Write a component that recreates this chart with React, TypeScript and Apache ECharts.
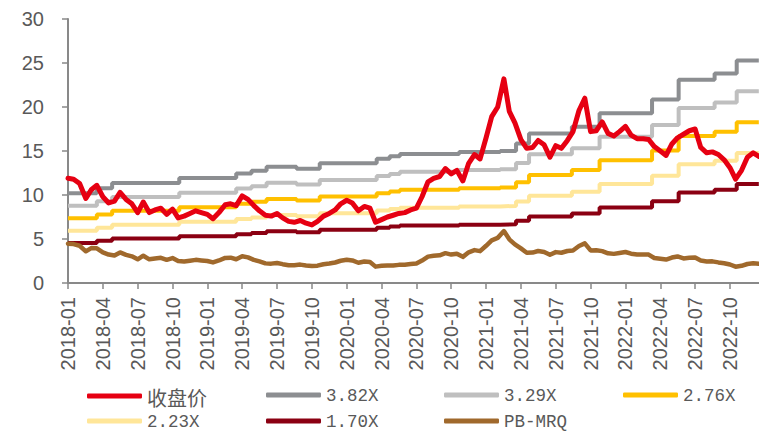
import React, { useEffect, useRef } from "react";
import * as echarts from "echarts";

// ---- data ----
const multiples = [3.82, 3.29, 2.76, 2.23, 1.7];
const bandNames = ["3.82X", "3.29X", "2.76X", "2.23X", "1.70X"];

// book value per share (steps at report dates)
const bookValueDates = [
  "2018-01-01", "2018-03-16", "2018-04-25", "2018-10-19", "2019-03-16", "2019-04-25",
  "2019-06-04", "2019-08-22", "2019-10-22", "2020-03-19", "2020-04-22", "2020-05-19",
  "2020-10-22", "2021-02-07", "2021-03-19", "2021-04-22", "2021-08-13", "2021-10-25",
  "2022-03-10", "2022-05-19", "2022-08-22", "2022-10-19",
];
const bookValuePerShare = [
  2.67, 2.82, 2.97, 3.12, 3.26, 3.34,
  3.46, 3.4, 3.56, 3.7, 3.77, 3.84,
  3.9, 3.93, 4.15, 4.45, 4.65, 5.05,
  5.46, 6.05, 6.23, 6.62,
];
const seriesEndDate = "2022-12-16";

// half-monthly samples (1st and 16th of each month, 2018-01 .. 2022-12)
const closePrice = [
  11.9, 11.8, 11.3, 9.6, 10.6, 11.1, 9.8, 9.1, 9.3, 10.3,
  9.5, 9.0, 8.0, 9.2, 8.0, 8.3, 8.5, 7.8, 8.4, 7.4,
  7.6, 7.9, 8.2, 8.0, 7.8, 7.3, 8.0, 8.9, 9.0, 8.8,
  9.9, 9.5, 8.8, 8.2, 7.7, 7.6, 7.9, 7.4, 7.0, 6.9,
  7.1, 6.8, 6.6, 7.0, 7.6, 7.9, 8.3, 9.0, 9.4, 9.1,
  8.2, 8.7, 8.5, 6.9, 7.2, 7.5, 7.7, 7.9, 8.0, 8.3,
  8.5, 9.8, 11.5, 11.9, 12.1, 13.0, 12.4, 12.8, 11.6, 13.6,
  14.6, 14.1, 16.5, 18.9, 20.0, 23.2, 19.5, 18.2, 16.3, 15.3,
  15.4, 16.2, 15.7, 14.3, 15.6, 15.3, 16.2, 17.2, 19.6, 21.0,
  17.2, 17.3, 18.3, 17.0, 16.7, 17.2, 17.8, 16.8, 16.4, 16.4,
  16.3, 15.5, 15.0, 14.5, 15.8, 16.5, 16.9, 17.3, 17.5, 15.4,
  14.8, 14.9, 14.6, 14.0, 13.1, 11.8, 12.8, 14.3, 14.8, 14.4,
];
const pbMrq = [
  4.46, 4.42, 4.23, 3.6, 3.97, 3.94, 3.48, 3.23, 3.13, 3.47,
  3.2, 3.03, 2.69, 3.1, 2.69, 2.79, 2.86, 2.63, 2.83, 2.49,
  2.44, 2.53, 2.63, 2.56, 2.5, 2.34, 2.56, 2.85, 2.88, 2.7,
  3.04, 2.91, 2.63, 2.46, 2.23, 2.2, 2.28, 2.14, 2.02, 2.03,
  2.09, 2.0, 1.94, 1.97, 2.13, 2.22, 2.33, 2.53, 2.64, 2.56,
  2.3, 2.44, 2.39, 1.86, 1.95, 1.99, 2.0, 2.06, 2.08, 2.16,
  2.21, 2.55, 3.0, 3.1, 3.15, 3.39, 3.23, 3.33, 2.97, 3.49,
  3.74, 3.62, 4.23, 4.85, 5.13, 5.9, 4.96, 4.39, 3.93, 3.44,
  3.46, 3.64, 3.53, 3.21, 3.51, 3.44, 3.64, 3.7, 4.2, 4.5,
  3.7, 3.72, 3.62, 3.37, 3.31, 3.41, 3.52, 3.33, 3.25, 3.25,
  3.23, 2.84, 2.75, 2.66, 2.89, 3.02, 2.79, 2.86, 2.89, 2.55,
  2.45, 2.46, 2.34, 2.25, 2.1, 1.85, 1.95, 2.16, 2.24, 2.18,
];

const sampleDates: string[] = [];
for (let y = 2018; y <= 2022; y++) {
  for (let mo = 1; mo <= 12; mo++) {
    const mm = String(mo).padStart(2, "0");
    sampleDates.push(`${y}-${mm}-01`, `${y}-${mm}-16`);
  }
}

const colors = {
  price: "#E60012",
  bands: ["#8C8E91", "#BFBFBF", "#FFC000", "#FFE699", "#8B0012"],
  pb: "#A0692C",
};
const textColor = "#595959";
const axisColor = "#898989";

function toMonthIndex(date: string): number {
  const [y, m, d] = date.split("-").map(Number);
  const dim = new Date(y, m, 0).getDate();
  return (y - 2018) * 12 + (m - 1) + (d - 1) / dim;
}

function monthLabel(v: number): string {
  const r = Math.round(v);
  if (Math.abs(v - r) > 1e-6 || r % 3 !== 0) return "";
  const y = 2018 + Math.floor(r / 12);
  const m = (r % 12) + 1;
  return `${y}-${String(m).padStart(2, "0")}`;
}

export default function App() {
  const ref = useRef<HTMLDivElement>(null);
  useEffect(() => {
    if (!ref.current) return;
    const chart = echarts.init(ref.current, undefined, { renderer: "svg" });

    const bandSeries = multiples.map((mult, j) => {
      const pts: [number, number][] = bookValueDates.map((d, i) => [
        toMonthIndex(d),
        +(mult * bookValuePerShare[i]).toFixed(2),
      ]);
      pts.push([toMonthIndex(seriesEndDate), +(mult * bookValuePerShare[bookValuePerShare.length - 1]).toFixed(2)]);
      return {
        name: bandNames[j],
        type: "line",
        step: "end",
        data: pts,
        showSymbol: false,
        symbol: "none",
        lineStyle: { width: 4, color: colors.bands[j] },
        itemStyle: { color: colors.bands[j] },
        z: 2,
      };
    });

    const legendPos: [string, number, number][] = [
      ["收盘价", 87, 385],
      ["3.82X", 266, 385],
      ["3.29X", 444, 385],
      ["2.76X", 623, 385],
      ["2.23X", 87, 411],
      ["1.70X", 266, 411],
      ["PB-MRQ", 444, 411],
    ];

    const legends = legendPos.map(([name, left, top]) => ({
      data: [name],
      left,
      top,
      padding: 0,
      icon: "roundRect",
      itemWidth: 55,
      itemHeight: 5,
      selectedMode: false,
      formatter: (n: string) => (/[\u4e00-\u9fff]/.test(n) ? `{cjk|${n}}` : `{lat|${n}}`),
      textStyle: {
        color: textColor,
        rich: {
          cjk: { fontFamily: '"Noto Sans CJK SC"', fontSize: 20, color: textColor, lineHeight: 18, padding: [2, 0, 0, 0] },
          lat: { fontFamily: '"Liberation Mono"', fontSize: 17.5, color: textColor, lineHeight: 18, padding: [2, 0, 0, 0] },
        },
      },
    }));

    chart.setOption({
      animation: false,
      backgroundColor: "#ffffff",
      grid: { left: 68, right: 0, top: 19, bottom: 149, containLabel: false, outerBoundsMode: "none" },
      legend: legends,
      xAxis: {
        type: "value",
        min: 0,
        max: 59.5,
        interval: 3,
        axisLine: { show: true, lineStyle: { color: axisColor, width: 2 } },
        axisTick: { show: true, length: 6, lineStyle: { color: axisColor, width: 1.5 } },
        splitLine: { show: false },
        axisLabel: {
          rotate: 90,
          margin: 14,
          color: textColor,
          fontFamily: '"Liberation Sans", Arial, sans-serif',
          fontSize: 20,
          showMaxLabel: false,
          formatter: (v: number) => monthLabel(v),
        },
      },
      yAxis: {
        type: "value",
        min: 0,
        max: 30,
        interval: 5,
        axisLine: { show: true, lineStyle: { color: axisColor, width: 2 } },
        axisTick: { show: true, length: 6, lineStyle: { color: axisColor, width: 1.5 } },
        splitLine: { show: false },
        axisLabel: {
          margin: 24,
          color: textColor,
          fontFamily: '"Liberation Sans", Arial, sans-serif',
          fontSize: 20,
        },
      },
      series: [
        {
          name: "收盘价",
          type: "line",
          data: sampleDates.map((d, i) => [toMonthIndex(d), closePrice[i]]),
          showSymbol: false,
          symbol: "none",
          lineStyle: { width: 5, color: colors.price, cap: "round", join: "round" },
          itemStyle: { color: colors.price },
          z: 4,
        },
        ...bandSeries,
        {
          name: "PB-MRQ",
          type: "line",
          data: sampleDates.map((d, i) => [toMonthIndex(d), pbMrq[i]]),
          showSymbol: false,
          symbol: "none",
          lineStyle: { width: 4.5, color: colors.pb, cap: "round", join: "round" },
          itemStyle: { color: colors.pb },
          z: 3,
        },
      ],
    });
    return () => chart.dispose();
  }, []);

  return (
    <div
      ref={ref}
      style={{ position: "fixed", left: 0, top: 0, width: 759, height: 432, background: "#fff" }}
    />
  );
}
